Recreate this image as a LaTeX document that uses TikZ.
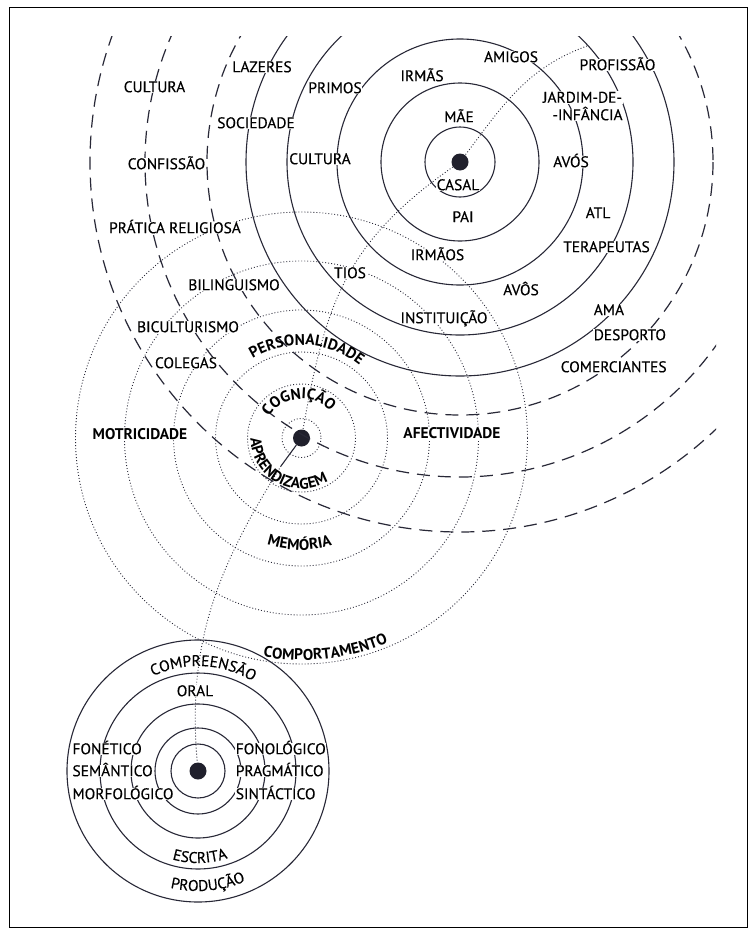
\documentclass[tikz,border=0pt]{standalone}
\usepackage{fontspec}
\setmainfont{PT Sans}[UprightFeatures={FakeBold=0.4}]
\newfontfamily\widefont{PT Sans}[LetterSpace=9]
\usetikzlibrary{decorations.text}
\definecolor{ink}{RGB}{40,40,55}
\newcommand\lblfont{\fontsize{15.5}{16}\selectfont}

\begin{document}
\begin{tikzpicture}[x=1bp,y=-1bp,
		solidring/.style={draw=ink,line width=1.1bp},
		dashring/.style={draw=ink,line width=1.2bp,dash pattern=on 13bp off 8bp},
		dotring/.style={draw=ink,line width=0.9bp,dash pattern=on 0.9bp off 2.1bp},
		link/.style={draw=ink,line width=0.9bp,dash pattern=on 0.9bp off 2.1bp},
		centre/.style={circle,fill=ink!80!black,minimum size=17bp,inner sep=0pt},
		lbl/.style={fill=white,inner sep=0.6bp,text height=10.8bp,text depth=0.4bp,font=\lblfont},
		blbl/.style={lbl,font=\lblfont\bfseries},
		arctext/.style={decorate,decoration={text along path,text align=center,text={|\lblfont|#1}}},
		barctext/.style={decorate,decoration={text along path,text align=center,text={|\lblfont\bfseries|#1}}},
		warctext/.style={decorate,decoration={text along path,text align=center,text={|\widefont\lblfont\bfseries|#1}}}]
		\fill[white] (0,0) rectangle (756,935);
		\draw[line width=1.8bp] (9.5,7.5) rectangle (747.5,927.5);
		\node[centre] (fam) at (460,162) {};
		\node[centre] (pers) at (301.5,438) {};
		\node[centre] (lang) at (198,771) {};
		% family, school, society
		\begin{scope}
			\clip (9,36) rectangle (716,928);
			\foreach \r in {35,79,123,173,214} \draw[solidring] (fam) circle[radius=\r];
			\foreach \r in {253,315,370} \draw[dashring] (fam) circle[radius=\r];
		\end{scope}
		% person
		\foreach \r in {19.5,54,86,128,177,226} \draw[dotring] (pers) circle[radius=\r];
		% language
		\foreach \r in {27,43,67,98,131} \draw[solidring] (lang) circle[radius=\r];
		\coordinate (top) at (587,46);
		\coordinate (tail) at (281,466);
		\draw[link] (top) to[out=200,in=53] (fam);
		\draw[link] (fam) to[out=215,in=80,looseness=1.1] (pers);
		\draw[ink,line width=1.1bp] (pers) -- (tail);
		\draw[link] (tail) to[out=238,in=95] (lang);
		% curved labels
		\path[warctext={COGNIÇÃO}] (pers) ++(195:39) arc[start angle=195,end angle=336,radius=39];
		\path[warctext={APRENDIZAGEM}] (pers) ++(212:51) arc[start angle=212,end angle=26,radius=51];
		\path[barctext={PERSONALIDADE}] (pers) ++(213.5:93) arc[start angle=213.5,end angle=333.5,radius=93];
		\path[barctext={MEMÓRIA}] (pers) ++(141:112) arc[start angle=141,end angle=41,radius=112];
		\path[barctext={COMPORTAMENTO}] (pers) ++(113.5:222) arc[start angle=113.5,end angle=53.5,radius=222];
		\path[arctext={COMPREENSÃO}] (lang) ++(213:105) arc[start angle=213,end angle=333,radius=105];
		\path[arctext={ESCRITA}] (lang) ++(138.7:92) arc[start angle=138.7,end angle=38.7,radius=92];
		\path[arctext={PRODUÇÃO}] (lang) ++(135:120) arc[start angle=135,end angle=35,radius=120];
		% labels
		\node[lbl] (cultA) at (154.5,87) {CULTURA};
		\node[lbl] (lazer) at (262,67) {LAZERES};
		\node[lbl] (primo) at (335,88) {PRIMOS};
		\node[lbl] (irmas) at (422,76) {IRMÃS};
		\node[lbl] (amigo) at (511,57) {AMIGOS};
		\node[lbl] (profi) at (617.5,65) {PROFISSÃO};
		\node[lbl] (jardA) at (582.5,97.5) {JARDIM-DE-};
		\node[lbl] (jardB) at (587.5,115) {-INFÂNCIA};
		\node[lbl] (mae) at (459,117) {MÃE};
		\node[lbl] (socie) at (256,123) {SOCIEDADE};
		\node[lbl] (cultB) at (320,159) {CULTURA};
		\node[lbl] (confi) at (166.5,164) {CONFISSÃO};
		\node[lbl] (avosA) at (571,162) {AVÓS};
		\node[lbl] (casal) at (458,185) {CASAL};
		\node[lbl] (pai) at (463,217) {PAI};
		\node[lbl] (atl) at (598,213) {ATL};
		\node[lbl] (prati) at (175,228) {PRÁTICA RELIGIOSA};
		\node[lbl] (terap) at (606.5,247) {TERAPEUTAS};
		\node[lbl] (irmao) at (437.5,255) {IRMÃOS};
		\node[lbl] (tios) at (350,273) {TIOS};
		\node[lbl] (bilin) at (234,285) {BILINGUISMO};
		\node[lbl] (avosB) at (521,290) {AVÔS};
		\node[lbl,anchor=west] (ama) at (593,310) {AMA};
		\node[lbl] (insti) at (444,318) {INSTITUIÇÃO};
		\node[lbl] (bicul) at (188,327) {BICULTURISMO};
		\node[lbl,anchor=west] (despo) at (593,335) {DESPORTO};
		\node[lbl] (coleg) at (186,363) {COLEGAS};
		\node[lbl,anchor=west] (comer) at (560,367) {COMERCIANTES};
		\node[blbl] (motri) at (140,434) {MOTRICIDADE};
		\node[blbl] (afect) at (452,433) {AFECTIVIDADE};
		\node[lbl] (oral) at (195,691) {ORAL};
		\node[lbl,anchor=west] (fonet) at (71.7,749) {FONÉTICO};
		\node[lbl,anchor=west] (seman) at (71.7,771) {SEMÂNTICO};
		\node[lbl,anchor=west] (morfo) at (71.7,794) {MORFOLÓGICO};
		\node[lbl,anchor=west] (fonol) at (235,749) {FONOLÓGICO};
		\node[lbl,anchor=west] (pragm) at (235,771) {PRAGMÁTICO};
		\node[lbl,anchor=west] (sinta) at (235,794) {SINTÁCTICO};
	\end{tikzpicture}
\end{document}
